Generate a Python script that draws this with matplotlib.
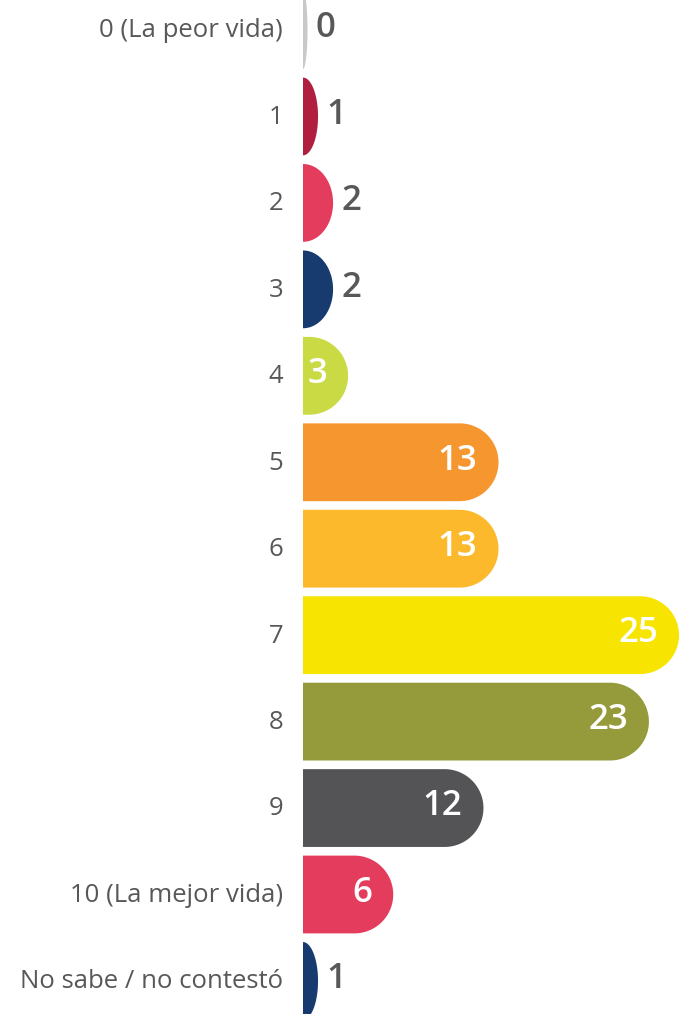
import numpy as np
import matplotlib
matplotlib.use("Agg")
from matplotlib import pyplot as plt
from matplotlib.patches import Polygon

categories = ["0 (La peor vida)", "1", "2", "3", "4", "5", "6", "7", "8", "9",
              "10 (La mejor vida)", "No sabe / no contestó"]
values = [0, 1, 2, 2, 3, 13, 13, 25, 23, 12, 6, 1]
colors = ["#c9c9cb", "#b01f3f", "#e43c5c", "#173b6f", "#c9da45", "#f6962e",
          "#fbb92b", "#f7e400", "#959a3a", "#545457", "#e43c5c", "#173b6f"]

plt.rcParams['font.family'] = ['Open Sans', 'DejaVu Sans']

W, H = 679, 1014
fig = plt.figure(figsize=(W / 100, H / 100), dpi=100)
ax = fig.add_axes([0, 0, 1, 1])

px_unit = 376 / 25.0          # pixels per data unit along x
row_px = 86.45                # pixels between rows
x0_px = 303                   # pixel where bars start
y0_px = 30                    # center of first row

ax.set_xlim(-x0_px / px_unit, (W - x0_px) / px_unit)
ax.set_ylim((H - y0_px) / row_px, -y0_px / row_px)
ax.axis('off')

hh = 0.45                        # half bar height in rows
rx_full = hh * row_px / px_unit  # round end radius in x units

for i, (v, c) in enumerate(zip(values, colors)):
    vv = max(v, 0.3)
    rx = min(rx_full, vv)
    cx = vv - rx
    t = np.linspace(np.pi / 2, -np.pi / 2, 60)
    xs = np.concatenate([[0], cx + rx * np.cos(t), [0]])
    ys = np.concatenate([[i - hh], i - hh * np.sin(t), [i + hh]])
    ax.add_patch(Polygon(np.column_stack([xs, ys]), closed=True,
                         facecolor=c, edgecolor='none'))
    if v >= 3:
        ax.text(vv - 21 / px_unit, i - 0.02, str(v), ha='right', va='center',
                color='white', fontsize=25, fontweight='semibold')
    else:
        ax.text(vv + 8 / px_unit, i - 0.02, str(v), ha='left', va='center',
                color='#58585a', fontsize=25, fontweight='semibold')

# category labels ending ~20 px left of the bar start
for i, lab in enumerate(categories):
    ax.text(-20 / px_unit, i + 0.01, lab, ha='right', va='center',
            fontsize=18.5, color='#58585a')

fig.savefig("out.png", dpi=100)
